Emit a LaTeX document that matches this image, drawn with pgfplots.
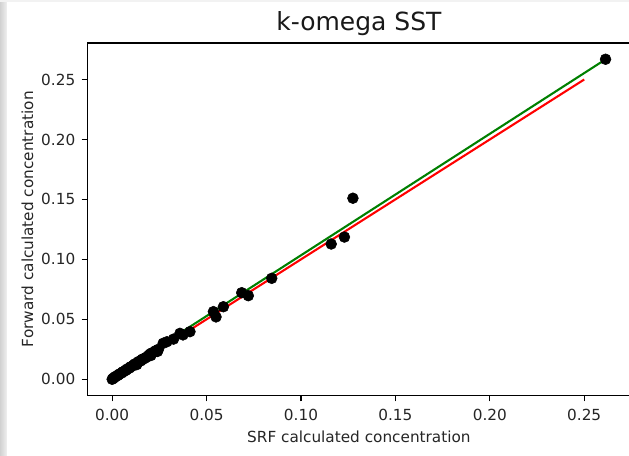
\documentclass[border=0pt]{standalone}
\usepackage{pgfplots}
\pgfplotsset{compat=1.18}
\usepackage{fontspec}
\setmainfont{DejaVu Sans}
\definecolor{mplgreen}{RGB}{0,128,0}
\definecolor{mplred}{RGB}{255,0,0}
\begin{document}
\begin{tikzpicture}
\useasboundingbox (0,0) rectangle (452.88pt,327.6pt);
\fill[white] (0,0) rectangle (452.88pt,327.6pt);
\shade[left color=black!18, right color=black!6] (0,0) rectangle (5pt,327.6pt);
\fill[black!5] (0,326.2pt) rectangle (452.88pt,327.6pt);
\clip (0,0) rectangle (452.88pt,327.6pt);
\begin{axis}[
  at={(63.0pt,43.0pt)}, anchor=south west,
  scale only axis, width=390.8pt, height=253.6pt,
  xmin=-0.01307, xmax=0.2744, ymin=-0.01335, ymax=0.2804,
  xtick={0,0.05,0.10,0.15,0.20,0.25},
  ytick={0,0.05,0.10,0.15,0.20,0.25},
  scaled ticks=false,
  tick align=outside, xtick pos=left, ytick pos=left,
  major tick length=4.3pt,
  tick style={black, line width=0.8pt},
  axis line style={line width=0.8pt},
  /pgf/number format/assume math mode=true,
  /pgf/number format/fixed,
  /pgf/number format/fixed zerofill,
  /pgf/number format/precision=2,
  tick label style={font=\fontsize{11}{13}\selectfont, text=black!85},
  xticklabel style={yshift=-2.4pt},
  yticklabel style={xshift=-1pt},
  title={k-omega SST},
  title style={at={(axis description cs:0.5,1.0106)}, anchor=base, font=\fontsize{18}{21}\selectfont, text=black!90},
  xlabel={SRF calculated concentration},
  xlabel style={at={(axis description cs:0.5,-0.1348)}, anchor=base, font=\fontsize{11}{13}\selectfont, text=black!85},
  ylabel={Forward calculated concentration},
  ylabel style={at={(axis description cs:-0.1000,0.5)}, anchor=base, font=\fontsize{11}{13}\selectfont, text=black!85},
]
\addplot[only marks, mark=*, mark size=3.9pt, mark options={fill=black, draw=black}] coordinates {
(0,0) (0.0005,0.0008) (0.001,0.0012) (0.0015,0.002) (0.002,0.0025) (0.003,0.0032)
(0.0035,0.004) (0.004,0.0045) (0.005,0.0052) (0.0055,0.006) (0.006,0.0065)
(0.007,0.0072) (0.0075,0.0079) (0.008,0.0086) (0.009,0.0092) (0.0095,0.0101)
(0.010,0.0105) (0.011,0.0113) (0.0115,0.012) (0.012,0.0128) (0.013,0.0122)
(0.0135,0.014) (0.014,0.0148) (0.015,0.0152) (0.0155,0.016) (0.016,0.0168)
(0.017,0.0172) (0.018,0.0183) (0.019,0.0195) (0.020,0.021) (0.0205,0.0198)
(0.021,0.022) (0.022,0.0225) (0.023,0.0238) (0.024,0.0232) (0.0245,0.025)
(0.027,0.030) (0.029,0.0313) (0.0325,0.0335) (0.0359,0.0383) (0.0375,0.037)
(0.0412,0.0397) (0.0536,0.0564) (0.055,0.052) (0.0589,0.0605) (0.0686,0.0722)
(0.0721,0.0697) (0.0845,0.0842) (0.116,0.1128) (0.123,0.1186) (0.1275,0.151)
(0.2613,0.2669)
};
\addplot[mplred, line width=1.5pt] coordinates {(0,0) (0.25,0.25)};
\addplot[mplgreen, line width=1.5pt] coordinates {(0,0.0021) (0.2613,0.2668)};
\end{axis}
\end{tikzpicture}
\end{document}
